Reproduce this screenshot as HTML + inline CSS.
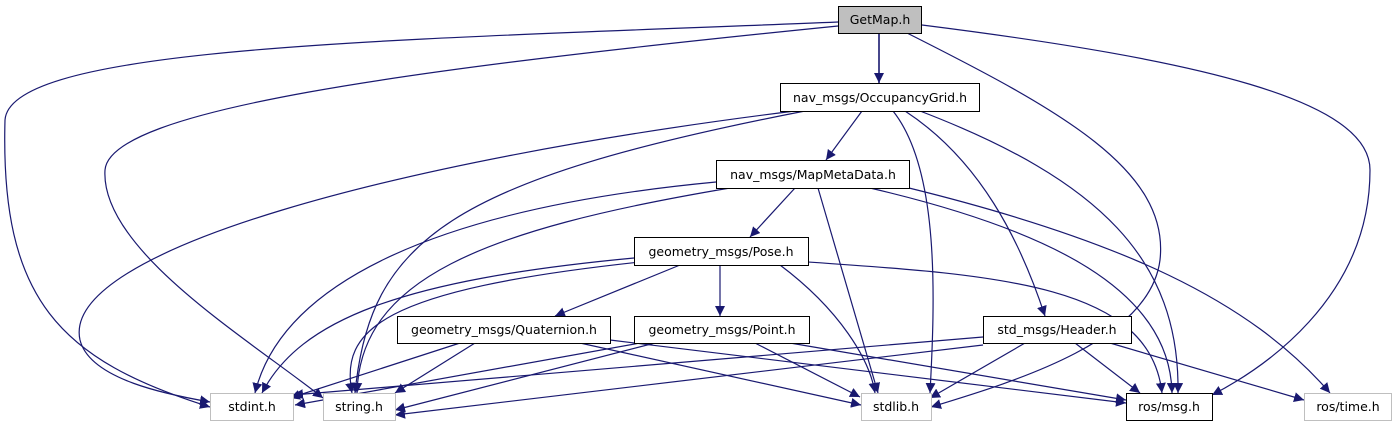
<!DOCTYPE html>
<html><head><meta charset="utf-8"><style>
html,body{margin:0;padding:0;background:#fff;}
svg text{font-family:"DejaVu Sans","Liberation Sans",sans-serif;font-size:12.5px;fill:#000;}
</style></head><body>
<svg width="1397" height="427" viewBox="0 0 1397 427" xmlns="http://www.w3.org/2000/svg">
<defs>
<marker id="a" viewBox="0 0 10 10" refX="10" refY="5" markerWidth="10" markerHeight="10" markerUnits="userSpaceOnUse" orient="auto">
<path d="M0,0 L10,5 L0,10 z" fill="#191970"/></marker>
</defs>
<g fill="none" stroke="#191970" stroke-width="1.2" marker-end="url(#a)">
<path d="M879,33 L879,83" stroke-width="1.6"/>
<path d="M838,22 C400,40 10,45 5,120 C0,300 60,360 210,407"/>
<path d="M838,26 C400,70 110,110 105,170 C100,250 250,340 323,398"/>
<path d="M907,33 C1060,110 1170,170 1160,260 C1150,340 1020,380 931,407"/>
<path d="M922,25 C1200,60 1370,100 1370,170 C1370,300 1260,370 1212,395"/>
<path d="M862,111 L826,160"/>
<path d="M795,111 C400,160 60,250 80,340 C90,380 170,395 210,402"/>
<path d="M805,111 C450,180 370,240 355,393"/>
<path d="M893,111 C940,170 935,300 930,393"/>
<path d="M905,111 C980,160 1020,240 1045,316"/>
<path d="M920,111 C1100,180 1180,260 1178,393"/>
<path d="M716,182 C420,210 280,290 255,393"/>
<path d="M730,188 C480,230 360,280 357,393"/>
<path d="M818,188 L878,393"/>
<path d="M870,188 C1050,230 1170,290 1172,393"/>
<path d="M909,188 C1120,240 1250,300 1330,393"/>
<path d="M795,188 L750,237"/>
<path d="M680,265 L555,316"/>
<path d="M720,265 L720,316"/>
<path d="M634,258 C400,280 300,320 262,393"/>
<path d="M640,262 C380,290 340,330 352,393"/>
<path d="M780,265 C840,310 870,360 875,393"/>
<path d="M808,262 C1000,275 1150,285 1162,393"/>
<path d="M460,343 L290,398"/>
<path d="M475,343 L395,393"/>
<path d="M580,343 L861,405"/>
<path d="M610,340 L1126,403"/>
<path d="M640,343 L295,405"/>
<path d="M655,343 L395,410"/>
<path d="M755,343 L860,397"/>
<path d="M790,343 L1126,400"/>
<path d="M983,337 L293,395"/>
<path d="M983,345 L395,415"/>
<path d="M1025,343 L930,398"/>
<path d="M1075,343 L1140,393"/>
<path d="M1110,343 L1304,400"/>
</g>
<g stroke-width="1">
<rect x="838.5" y="6.5" width="83" height="27" fill="#bfbfbf" stroke="#000"/>
<rect x="780.5" y="83.5" width="199" height="28" fill="#fff" stroke="#000"/>
<rect x="716.5" y="160.5" width="193" height="28" fill="#fff" stroke="#000"/>
<rect x="634.5" y="237.5" width="174" height="28" fill="#fff" stroke="#000"/>
<rect x="397.5" y="316.5" width="213" height="27" fill="#fff" stroke="#000"/>
<rect x="634.5" y="316.5" width="175" height="27" fill="#fff" stroke="#000"/>
<rect x="983.5" y="316.5" width="148" height="27" fill="#fff" stroke="#000"/>
<rect x="210.5" y="393.5" width="83" height="27" fill="#fff" stroke="#bfbfbf"/>
<rect x="323.5" y="393.5" width="72" height="27" fill="#fff" stroke="#bfbfbf"/>
<rect x="861.5" y="393.5" width="70" height="27" fill="#fff" stroke="#bfbfbf"/>
<rect x="1126.5" y="393.5" width="86" height="27" fill="#fff" stroke="#000"/>
<rect x="1304.5" y="393.5" width="87" height="27" fill="#fff" stroke="#bfbfbf"/>
</g>
<g text-anchor="middle">
<text x="880" y="24">GetMap.h</text>
<text x="880" y="102">nav_msgs/OccupancyGrid.h</text>
<text x="813" y="179">nav_msgs/MapMetaData.h</text>
<text x="721" y="256">geometry_msgs/Pose.h</text>
<text x="504" y="334">geometry_msgs/Quaternion.h</text>
<text x="722" y="334">geometry_msgs/Point.h</text>
<text x="1057" y="334">std_msgs/Header.h</text>
<text x="252" y="411">stdint.h</text>
<text x="359" y="411">string.h</text>
<text x="896" y="411">stdlib.h</text>
<text x="1169" y="411">ros/msg.h</text>
<text x="1348" y="411">ros/time.h</text>
</g>
</svg>
</body></html>
